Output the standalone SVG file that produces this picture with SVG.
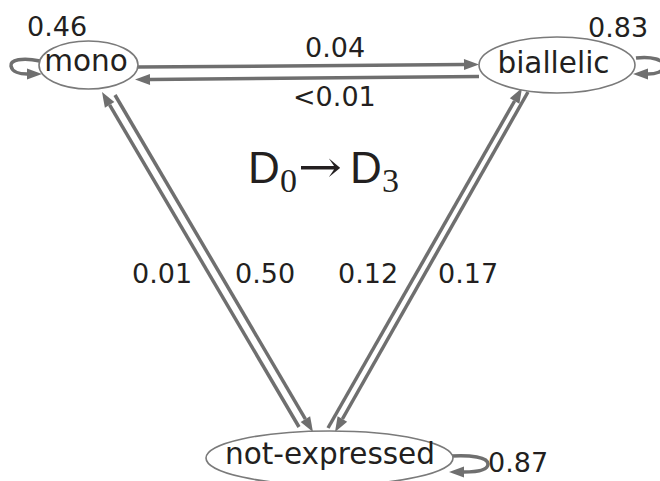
<svg xmlns="http://www.w3.org/2000/svg" width="660" height="481" viewBox="0 0 660 481">
<defs>
<marker id="ah" markerUnits="userSpaceOnUse" markerWidth="20" markerHeight="20" refX="0" refY="0" orient="auto" overflow="visible">
<path d="M0,-5.5 L15,0 L0,5.5 Z" fill="#6f6f6f"/>
</marker>
<style>
.node ellipse{fill:#fff;stroke:#7a7a7a;stroke-width:1.6}
.nl{font-family:"DejaVu Sans",sans-serif;font-size:29.5px;fill:#231f20}
.el{font-family:"DejaVu Sans",sans-serif;font-size:27px;fill:#231f20}
.edge{fill:none;stroke:#6f6f6f;stroke-width:3.5;marker-end:url(#ah)}
</style>
</defs>
<rect width="660" height="481" fill="#fff"/>
<g id="connectors">
<path class="edge" d="M138,67 L464,64.6"/>
<path class="edge" d="M479,76.5 L150,79.4"/>
<path class="edge" d="M299,427 L109.6,104.9"/>
<path class="edge" d="M115,95 L305.4,419.1"/>
<path class="edge" d="M328,428 L514.6,101"/>
<path class="edge" d="M528,92 L342.4,419"/>
<path class="edge" d="M40,61 C22,57 10,60 11,66 C12,72 20,74 27,74"/>
<path class="edge" d="M636,58 C652,56 664,60 664,66 C664,72 655,74 648,74"/>
<path class="edge" d="M452,456 C470,455 488,457 488,464 C488,470 478,472 464,472"/>
</g>
<g id="mono" class="node">
<ellipse cx="88.5" cy="65" rx="49.5" ry="24"/>
<text class="nl" x="86" y="71" text-anchor="middle">mono</text>
</g>
<g id="biallelic" class="node">
<ellipse cx="557" cy="65" rx="78" ry="28"/>
<text class="nl" x="553.5" y="73" text-anchor="middle">biallelic</text>
</g>
<g id="not-expressed" class="node">
<ellipse cx="329.5" cy="458" rx="123.5" ry="27"/>
<text class="nl" x="330" y="464" text-anchor="middle">not-expressed</text>
</g>
<g id="labels">
<text class="el" x="27" y="36">0.46</text>
<text class="el" x="588" y="37">0.83</text>
<text class="el" x="488" y="472">0.87</text>
<text class="el" x="305" y="57">0.04</text>
<text class="el" x="293" y="106">&lt;0.01</text>
<text class="el" x="132" y="283">0.01</text>
<text class="el" x="235" y="283">0.50</text>
<text class="el" x="338" y="283">0.12</text>
<text class="el" x="438" y="283">0.17</text>
</g>
<g id="title" fill="#231f20">
<text x="248" y="183" font-family="Liberation Sans, sans-serif" font-size="44">D</text>
<text x="280" y="192" font-family="Liberation Serif, serif" font-size="34">0</text>
<text x="298" y="182" font-family="DejaVu Serif, serif" font-size="44" textLength="44" lengthAdjust="spacingAndGlyphs">→</text>
<text x="350" y="183" font-family="Liberation Sans, sans-serif" font-size="44">D</text>
<text x="382" y="192" font-family="Liberation Serif, serif" font-size="34">3</text>
</g>
</svg>
